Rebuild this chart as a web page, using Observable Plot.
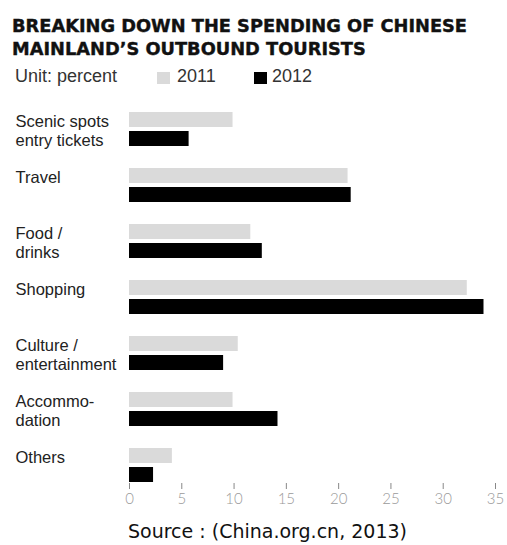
<!DOCTYPE html>
<html>
<head>
<meta charset="utf-8">
<script src="https://cdn.jsdelivr.net/npm/d3@7"></script>
<script src="https://cdn.jsdelivr.net/npm/@observablehq/plot@0.6"></script>
<style>
  html, body { margin: 0; padding: 0; background: #fff; }
  #page { position: relative; width: 507px; height: 545px; overflow: hidden; }
  #title { position: absolute; left: 12px; top: 14px; font-family: "DejaVu Sans", sans-serif; font-weight: 700; font-size: 17.8px; line-height: 23px; color: #111; -webkit-text-stroke: 0.4px #111; white-space: nowrap; }
  .legend { position: absolute; top: 66px; font-family: "Liberation Sans", Arial, sans-serif; font-size: 18px; color: #333; line-height: 20px; white-space: nowrap; }
  .sw { position: absolute; top: 72px; width: 13px; height: 12px; }
  #chart { position: absolute; left: 0; top: 95px; }
  #source { position: absolute; left: 128px; top: 520px; font-family: "DejaVu Sans", sans-serif; font-size: 19px; line-height: 22px; color: #111; white-space: nowrap; }
</style>
</head>
<body>
<div id="page">
  <div id="title">BREAKING DOWN THE SPENDING OF CHINESE<br>MAINLAND’S OUTBOUND TOURISTS</div>
  <div class="legend" style="left:15px">Unit: percent</div>
  <div class="sw" id="sw0" style="left:157px"></div>
  <div class="legend" id="lg0" style="left:177px"></div>
  <div class="sw" id="sw1" style="left:254px"></div>
  <div class="legend" id="lg1" style="left:272px"></div>
  <div id="chart"></div>
  <div id="source">Source : (China.org.cn, 2013)</div>
</div>
<script>
const categories = ["Scenic spots entry tickets", "Travel", "Food / drinks", "Shopping", "Culture / entertainment", "Accommodation", "Others"];
const categoryLabels = ["Scenic spots\nentry tickets", "Travel", "Food /\ndrinks", "Shopping", "Culture /\nentertainment", "Accommo-\ndation", "Others"];
const years = ["2011", "2012"];
const values2011 = [9.9, 20.9, 11.6, 32.3, 10.4, 9.9, 4.1];
const values2012 = [5.7, 21.2, 12.7, 33.9, 9.0, 14.2, 2.3];
const xTicks = [0, 5, 10, 15, 20, 25, 30, 35];
const yearColors = ["#dadada", "#000000"];

const data = categories.flatMap((c, i) => [
  {category: c, year: years[0], value: values2011[i]},
  {category: c, year: years[1], value: values2012[i]}
]);
const labelRows = categories.map((c, i) => ({category: c, label: categoryLabels[i]}));

years.forEach((y, i) => {
  document.getElementById("sw" + i).style.background = yearColors[i];
  document.getElementById("lg" + i).textContent = y;
});

const chart = Plot.plot({
  width: 507,
  height: 417,
  marginTop: 14,
  marginBottom: 25,
  marginLeft: 129,
  marginRight: 12,
  style: {background: "transparent"},
  x: {domain: [0, 35], ticks: xTicks, tickSize: 6, tickPadding: 4, label: null, line: false},
  y: {domain: years, axis: null, paddingInner: 0.2, paddingOuter: 0},
  fy: {domain: categories, axis: null, paddingInner: 0.368, paddingOuter: 0},
  color: {domain: years, range: yearColors},
  marks: [
    Plot.barX(data, {x: "value", y: "year", fy: "category", fill: "year"}),
    Plot.text(labelRows, {
      fy: "category", text: "label", frameAnchor: "top-left", dx: -114, dy: 1,
      textAnchor: "start", lineAnchor: "top", lineHeight: 1.16,
      fontSize: 16.5, fontFamily: "Liberation Sans, Arial, sans-serif", fill: "#222"
    })
  ]
});
document.getElementById("chart").appendChild(chart);

d3.select(chart).selectAll('g[aria-label^="x-axis"] text')
  .attr("fill", "#9a9a9a")
  .style("font-family", "Lato, sans-serif")
  .style("font-weight", "300")
  .style("font-size", "15px");
d3.select(chart).selectAll('g[aria-label^="x-axis"] line, g[aria-label^="x-axis"] path')
  .attr("stroke", "#888");
</script>
</body>
</html>
